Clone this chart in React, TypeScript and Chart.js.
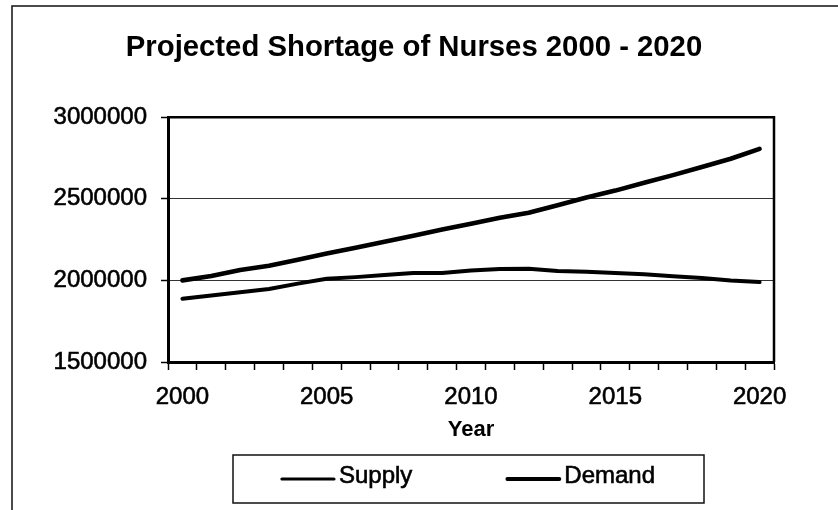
import React, { useEffect, useRef } from "react";
import { Chart, registerables } from "chart.js";

Chart.register(...registerables);

const years = [
  "2000", "2001", "2002", "2003", "2004", "2005", "2006", "2007", "2008", "2009", "2010",
  "2011", "2012", "2013", "2014", "2015", "2016", "2017", "2018", "2019", "2020",
];
const labelledYears = ["2000", "2005", "2010", "2015", "2020"];
const supply = [
  1888000, 1908000, 1928000, 1947000, 1980000, 2010000, 2020000, 2033000, 2045000, 2045000, 2061000,
  2070000, 2072000, 2057000, 2053000, 2045000, 2037000, 2025000, 2014000, 2000000, 1990000,
];
const demand = [
  2000000, 2027000, 2064000, 2090000, 2127000, 2164000, 2200000, 2237000, 2274000, 2311000, 2347000,
  2384000, 2414000, 2460000, 2508000, 2550000, 2598000, 2645000, 2695000, 2745000, 2806000,
];
const yTicks = [1500000, 2000000, 2500000, 3000000];
const seriesNames = ["Supply", "Demand"];
const titleText = "Projected Shortage of Nurses 2000 - 2020";
const xTitleText = "Year";

const FONT = '"Liberation Sans", Arial, Helvetica, sans-serif';

const decorPlugin = {
  id: "decor",
  afterDraw(chart: any) {
    const { ctx, chartArea: a } = chart;
    ctx.save();
    // outer chart frame (left and top edges visible)
    ctx.strokeStyle = "#111";
    ctx.lineWidth = 1.5;
    ctx.beginPath();
    ctx.moveTo(12, chart.height);
    ctx.lineTo(12, 6);
    ctx.lineTo(chart.width, 6);
    ctx.stroke();

    // plot area top / right border
    ctx.strokeStyle = "#000";
    ctx.lineWidth = 2.5;
    ctx.beginPath();
    ctx.moveTo(a.left, a.top);
    ctx.lineTo(a.right, a.top);
    ctx.lineTo(a.right, a.bottom);
    ctx.stroke();

    // legend box
    const boxL = a.left + 65;
    const boxR = a.right - 70;
    const boxT = chart.height - 55;
    const boxB = chart.height - 7;
    ctx.strokeStyle = "#111";
    ctx.lineWidth = 1.5;
    ctx.strokeRect(boxL, boxT, boxR - boxL, boxB - boxT);

    ctx.font = `24px ${FONT}`;
    const lineLen = 52;
    const gap = 5;
    const spacing = 95;
    const items = chart.data.datasets.map((ds: any) => ({
      label: ds.label,
      color: ds.borderColor,
      lw: ds.borderWidth - 0.8,
      w: lineLen + gap + ctx.measureText(ds.label).width,
    }));
    const total = items.reduce((s: number, it: any) => s + it.w, 0) + spacing * (items.length - 1);
    let x = (boxL + boxR) / 2 - total / 2;
    const cy = (boxT + boxB) / 2;
    for (const it of items) {
      ctx.strokeStyle = it.color;
      ctx.lineWidth = it.lw;
      ctx.lineCap = "round";
      ctx.beginPath();
      ctx.moveTo(x, cy);
      ctx.lineTo(x + lineLen, cy);
      ctx.stroke();
      ctx.fillStyle = "#000";
      ctx.textBaseline = "middle";
      ctx.textAlign = "left";
      ctx.lineWidth = 0.6;
      ctx.strokeStyle = "#000";
      ctx.fillText(it.label, x + lineLen + gap, cy - 2.5);
      ctx.strokeText(it.label, x + lineLen + gap, cy - 2.5);
      x += it.w + spacing;
    }
    ctx.restore();
  },
};

export default function App() {
  const ref = useRef<HTMLCanvasElement | null>(null);

  useEffect(() => {
    document.body.style.margin = "0";
    document.body.style.overflow = "hidden";
    const canvas = ref.current;
    if (!canvas) return;
    const chart = new Chart(canvas, {
      type: "line",
      data: {
        labels: years,
        datasets: [
          {
            label: seriesNames[0],
            data: supply,
            borderColor: "#000",
            backgroundColor: "#000",
            borderWidth: 4,
            pointRadius: 0,
            tension: 0,
            fill: false,
            borderCapStyle: "round",
            borderJoinStyle: "round",
          },
          {
            label: seriesNames[1],
            data: demand,
            borderColor: "#000",
            backgroundColor: "#000",
            borderWidth: 4.6,
            pointRadius: 0,
            tension: 0,
            fill: false,
            borderCapStyle: "round",
            borderJoinStyle: "round",
          },
        ],
      },
      options: {
        responsive: false,
        animation: false,
        devicePixelRatio: 1,
        layout: { padding: { left: 54, right: 64, top: 0, bottom: 0 } },
        plugins: {
          legend: { display: false },
          tooltip: { enabled: false },
          title: {
            display: true,
            text: titleText,
            color: "#000",
            font: { family: FONT, size: 29.3, weight: "bold", lineHeight: 1.2 },
            padding: { top: 30, bottom: 52 },
          },
        },
        scales: {
          x: {
            type: "category",
            position: "bottom",
            offset: true,
            grid: {
              offset: true,
              drawOnChartArea: false,
              drawTicks: true,
              tickLength: 8,
              tickColor: "#000",
              tickWidth: 1.5,
            },
            border: { display: true, color: "#000", width: 3 },
            ticks: {
              autoSkip: false,
              maxRotation: 0,
              minRotation: 0,
              padding: 13,
              color: "#000",
              textStrokeColor: "#000",
              textStrokeWidth: 0.6,
              font: { family: FONT, size: 24, lineHeight: 1.2 },
              callback: function (_v: any, index: number) {
                const lab = years[index];
                return labelledYears.includes(lab) ? lab : "";
              },
            },
            title: {
              display: true,
              text: xTitleText,
              color: "#000",
              font: { family: FONT, size: 22, weight: "bold", lineHeight: 1.2 },
              padding: { top: 0, bottom: 66.8 },
            },
            afterFit: (s: any) => {
              s.height = 148;
            },
          },
          y: {
            position: "left",
            min: yTicks[0],
            max: yTicks[yTicks.length - 1],
            afterBuildTicks: (s: any) => {
              s.ticks = yTicks.map((v) => ({ value: v }));
            },
            grid: {
              color: "#333",
              lineWidth: 1,
              drawTicks: true,
              tickLength: 7,
              tickColor: "#000",
              tickWidth: 1.5,
            },
            border: { display: true, color: "#000", width: 3 },
            ticks: {
              padding: 14,
              color: "#000",
              textStrokeColor: "#000",
              textStrokeWidth: 0.6,
              font: { family: FONT, size: 24, lineHeight: 1.2 },
              callback: (v: any) => String(v),
            },
            afterFit: (s: any) => {
              s.width = 114;
            },
          },
        },
      },
      plugins: [decorPlugin],
    });
    return () => chart.destroy();
  }, []);

  return (
    <div style={{ width: 838, height: 510, background: "#fff" }}>
      <canvas ref={ref} width={838} height={510} style={{ display: "block" }} />
    </div>
  );
}
